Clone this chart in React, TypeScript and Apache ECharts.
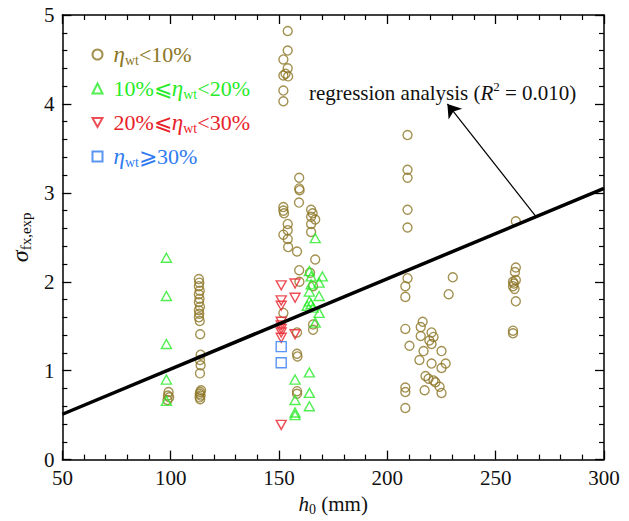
import React, { useEffect, useRef } from "react";
import * as echarts from "echarts";

const FONT = "Liberation Serif";

const COLOR_LOW = "#8C7626";
const COLOR_MID = "#27EB27";
const COLOR_HIGH = "#E8222A";
const COLOR_TOP = "#2F7BEF";

// h0 (mm), sigma_fx,exp for eta_wt < 10%
const lowRatio: number[][] = [
  [99, 0.76], [98.7, 0.72], [99.3, 0.7], [98.5, 0.67],
  [113, 2.03], [113.2, 1.99], [113, 1.95], [113.4, 1.9], [113, 1.86], [113.3, 1.81],
  [113, 1.77], [113.5, 1.72], [113, 1.68], [113.2, 1.64], [113, 1.6], [113.4, 1.56],
  [113.6, 1.41], [113.8, 1.18], [113.5, 1.12], [113.8, 1.06], [113.5, 0.97],
  [114, 0.78], [113.6, 0.76], [113.4, 0.74], [113.8, 0.72], [113.3, 0.7], [113.6, 0.68],
  [154, 4.82], [154, 4.6], [152, 4.5], [154, 4.4], [153, 4.34], [152, 4.32], [154.2, 4.31],
  [152, 4.15], [152, 4.03],
  [152, 2.84], [152, 2.8], [152.3, 2.77], [154, 2.65], [154, 2.58], [152, 2.53],
  [154, 2.48], [154.2, 2.39], [152, 1.65],
  [159.3, 3.17], [159.3, 3.05], [159.5, 3.03], [159.2, 2.89], [158.3, 2.34], [159.3, 2.13],
  [159.4, 2.0], [158.3, 1.43], [158.3, 1.19], [158.5, 1.16], [158.3, 0.77], [158.3, 0.74],
  [164.8, 2.81], [165.5, 2.77], [164.8, 2.73], [166.7, 2.7], [164.8, 2.65], [164.8, 2.56],
  [166.7, 2.25], [164.3, 2.1], [165.7, 1.95], [165.7, 1.52], [165.7, 1.46],
  [209.3, 3.65], [209.3, 3.26], [209.3, 3.17], [209.3, 2.81], [209.3, 2.61], [209.3, 2.04],
  [208.3, 1.95], [208.3, 1.83], [208.3, 1.47], [210.2, 1.28], [208.3, 0.81], [208.3, 0.76],
  [208.3, 0.58],
  [216.3, 1.55], [215.4, 1.49], [220.4, 1.43], [215.4, 1.39], [221.3, 1.38], [219.4, 1.34],
  [220.4, 1.3], [216.7, 1.22], [225, 1.22], [214.8, 1.12], [220.4, 1.08], [226.9, 1.08],
  [225, 1.03], [217.6, 0.94], [219, 0.91], [221.3, 0.89], [222.2, 0.87], [224.1, 0.82],
  [217.2, 0.78], [225, 0.75], [228.3, 1.86], [230.2, 2.05],
  [259.3, 2.68], [259.3, 2.16], [258.9, 2.11], [259.3, 2.02], [258, 2.0], [258.4, 1.98],
  [258, 1.95], [258.7, 1.92], [259.3, 1.78], [258, 1.45], [258, 1.42],
];

// 10% <= eta_wt < 20%
const midRatio: number[][] = [
  [98, 2.27], [98, 1.84], [98, 1.3], [98, 0.9], [98, 0.66],
  [166.7, 2.49], [164, 2.12], [164.8, 2.06], [170, 2.06], [168.5, 1.99], [164.8, 1.97],
  [164, 1.89], [168.5, 1.84], [164, 1.78], [164.8, 1.75], [163, 1.73], [165.7, 1.71],
  [168.5, 1.65], [166.7, 1.54],
  [164, 0.98], [157.4, 0.9], [164, 0.75], [157.4, 0.67], [164, 0.6], [157.4, 0.53], [157.4, 0.5],
];

// 20% <= eta_wt < 30%
const highRatio: number[][] = [
  [151, 1.96], [151, 1.79], [151, 1.73], [151, 1.55], [151, 1.51], [151, 1.47],
  [151, 1.43], [151, 1.37], [151, 0.39],
  [157.4, 1.98], [157.4, 1.82], [157.4, 1.41],
];

// eta_wt >= 30%
const topRatio: number[][] = [
  [151, 1.27], [151, 1.09],
];

// regression line end points and its annotation arrow
const fitLine: number[][] = [[50, 0.51], [300, 3.05]];
const arrowFrom = [268.7, 2.73];
const arrowTo = [227.7, 4.0];

const xTicks = { min: 50, max: 300, interval: 50 };
const yTicks = { min: 0, max: 5, interval: 1 };

const NAME_LOW = "low";
const NAME_MID = "mid";
const NAME_HIGH = "high";
const NAME_TOP = "top";

const legendText: Record<string, string> = {
  [NAME_LOW]: "{g| }{i|η}{s|wt}{n|<10%}",
  [NAME_MID]: "{g| }{n|10%⩽}{i|η}{s|wt}{n|<20%}",
  [NAME_HIGH]: "{g| }{n|20%⩽}{i|η}{s|wt}{n|<30%}",
  [NAME_TOP]: "{g| }{i|η}{s|wt}{n|⩾30%}",
};

const DOWN_TRIANGLE = "path://M0,0L10,0L5,9Z";

function axis(range: { min: number; max: number; interval: number }, position: string, labels: boolean) {
  return {
    type: "value",
    position,
    min: range.min,
    max: range.max,
    interval: range.interval,
    axisLine: { show: true, onZero: false, lineStyle: { color: "#000", width: 1.5 } },
    axisTick: { show: true, inside: true, length: 9, lineStyle: { color: "#000", width: 1.3 } },
    minorTick: { show: true, splitNumber: 5, length: 5, lineStyle: { color: "#000", width: 1.2 } },
    splitLine: { show: false },
    minorSplitLine: { show: false },
    axisLabel: {
      show: labels,
      fontFamily: FONT,
      fontSize: 21,
      color: "#111",
      margin: 8,
    },
  };
}

export default function App() {
  const ref = useRef<HTMLDivElement>(null);

  useEffect(() => {
    if (!ref.current) return;
    const chart = echarts.init(ref.current, undefined, { renderer: "svg" });

    const scatter = (name: string, data: number[][], color: string, symbol: string, size: any, rotate = 0) => ({
      name,
      type: "scatter",
      data,
      symbol,
      symbolSize: size,
      symbolRotate: rotate,
      itemStyle: { color: "rgba(0,0,0,0)", borderColor: color, borderWidth: 1.4 },
      z: 3,
    });

    const xBottom: any = axis(xTicks, "bottom", true);
    xBottom.name = "{i|h}{s|0}{n| (mm)}";
    xBottom.nameLocation = "middle";
    xBottom.nameGap = 27;
    xBottom.nameTextStyle = {
      color: "#111",
      fontFamily: FONT,
      rich: {
        i: { fontFamily: FONT, fontStyle: "italic", fontSize: 21, lineHeight: 24, color: "#111" },
        s: { fontFamily: FONT, fontSize: 14, lineHeight: 10, verticalAlign: "bottom", color: "#111" },
        n: { fontFamily: FONT, fontSize: 21, lineHeight: 24, color: "#111" },
      },
    };

    const yLeft: any = axis(yTicks, "left", true);
    yLeft.name = "{i|σ}{s|fx,exp}";
    yLeft.nameLocation = "middle";
    yLeft.nameGap = 23;
    yLeft.nameTextStyle = {
      color: "#111",
      fontFamily: FONT,
      rich: {
        i: { fontFamily: FONT, fontStyle: "italic", fontSize: 24, lineHeight: 26, color: "#111" },
        s: { fontFamily: FONT, fontSize: 15, lineHeight: 12, verticalAlign: "bottom", color: "#111" },
      },
    };

    const option: any = {
      animation: false,
      backgroundColor: "#fff",
      grid: { left: 62, right: 25, top: 15, bottom: 55, containLabel: false },
      xAxis: [xBottom, axis(xTicks, "top", false)],
      yAxis: [yLeft, axis(yTicks, "right", false)],
      legend: {
        orient: "vertical",
        left: 91.5,
        top: 43,
        padding: 0,
        itemGap: 9.5,
        itemWidth: 10,
        itemHeight: 10,
        selectedMode: false,
        formatter: (name: string) => legendText[name] ?? name,
        textStyle: {
          fontFamily: FONT,
          fontSize: 21,
          rich: {
            g: { width: 6, fontSize: 10, fontFamily: FONT },
            i: { fontFamily: FONT, fontStyle: "italic", fontSize: 23, lineHeight: 26 },
            s: { fontFamily: FONT, fontSize: 14, lineHeight: 12, verticalAlign: "bottom" },
            n: { fontFamily: FONT, fontSize: 22, lineHeight: 26 },
          },
        },
        data: [
          { name: NAME_LOW, textStyle: { color: COLOR_LOW } },
          { name: NAME_MID, textStyle: { color: COLOR_MID } },
          { name: NAME_HIGH, icon: DOWN_TRIANGLE, textStyle: { color: COLOR_HIGH } },
          { name: NAME_TOP, textStyle: { color: COLOR_TOP } },
        ],
      },
      series: [
        scatter(NAME_LOW, lowRatio, COLOR_LOW, "circle", 9),
        scatter(NAME_MID, midRatio, COLOR_MID, "triangle", [10, 9]),
        scatter(NAME_HIGH, highRatio, COLOR_HIGH, "triangle", [10, 9], 180),
        scatter(NAME_TOP, topRatio, COLOR_TOP, "rect", 10),
        {
          name: "fit",
          type: "line",
          data: fitLine,
          symbol: "none",
          lineStyle: { color: "#000", width: 3.5 },
          z: 5,
          markLine: {
            silent: true,
            symbol: ["none", "arrow"],
            symbolSize: 13,
            lineStyle: { color: "#000", width: 1.2, type: "solid" },
            label: { show: false },
            data: [[{ coord: arrowFrom }, { coord: arrowTo }]],
          },
        },
      ],
      graphic: [
        {
          type: "text",
          left: 309,
          top: 80,
          style: {
            text: "{n|regression analysis (}{i|R}{p|2}{n| = 0.010)}",
            fill: "#111",
            fontFamily: FONT,
            rich: {
              n: { fontFamily: FONT, fontSize: 21, lineHeight: 26, fill: "#111" },
              i: { fontFamily: FONT, fontStyle: "italic", fontSize: 21, lineHeight: 26, fill: "#111" },
              p: { fontFamily: FONT, fontSize: 13, lineHeight: 14, verticalAlign: "top", fill: "#111" },
            },
          },
        },
      ],
    };

    chart.setOption(option);
    return () => chart.dispose();
  }, []);

  return (
    <div
      ref={ref}
      style={{ position: "absolute", left: 0, top: 0, width: 629, height: 521 }}
    />
  );
}
